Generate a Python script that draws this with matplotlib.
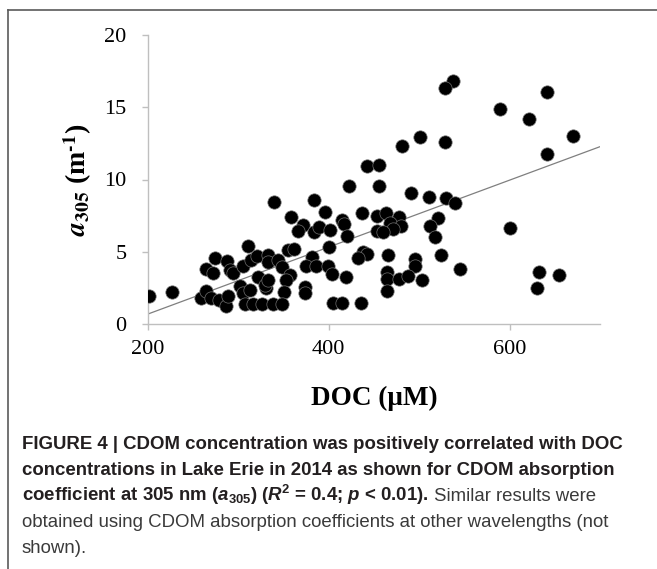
import numpy as np
import matplotlib.pyplot as plt
from matplotlib.lines import Line2D

plt.rcParams['font.family'] = ['Liberation Serif', 'DejaVu Serif']
plt.rcParams['mathtext.fontset'] = 'custom'
plt.rcParams['mathtext.rm'] = 'Liberation Sans'
plt.rcParams['mathtext.bf'] = 'Liberation Sans:bold'
plt.rcParams['mathtext.it'] = 'Liberation Sans:italic'
plt.rcParams['mathtext.bfit'] = 'Liberation Sans:italic:bold'

# DOC (uM) vs a305 (m-1)
doc = [201, 226, 259, 264, 270, 278, 286, 289, 264, 272, 274, 287, 291, 294,
       305, 314, 321, 333, 333, 344, 348, 355, 361, 381, 375, 386, 399, 311,
       339, 384, 396, 358, 371, 366, 384, 389, 357, 353, 322, 331, 329, 333,
       350, 374, 374, 302, 305, 313, 307, 316, 326, 338, 348, 400, 401, 415,
       417, 420, 422, 442, 456, 455, 437, 453, 463, 478, 468, 480, 471, 453,
       460, 438, 442, 432, 466, 495, 495, 524, 545, 464, 464, 464, 478, 488,
       503, 419, 403, 405, 415, 436, 491, 511, 530, 540, 521, 512, 517, 600,
       537, 528, 589, 622, 481, 501, 528, 641, 670, 641, 632, 655, 630]
a305 = [1.96, 2.24, 1.78, 2.30, 1.78, 1.66, 1.27, 1.96, 3.78, 3.51, 4.59, 4.36,
        3.74, 3.51, 4.01, 4.43, 4.71, 4.78, 4.31, 4.43, 3.92, 5.12, 5.16, 4.66,
        4.01, 4.01, 4.01, 5.40, 8.47, 8.58, 7.77, 7.40, 6.85, 6.44, 6.39, 6.73,
        3.39, 3.04, 3.23, 2.47, 2.70, 3.04, 2.24, 2.58, 2.17, 2.63, 2.12, 2.35,
        1.38, 1.38, 1.38, 1.38, 1.38, 5.35, 6.50, 7.20, 6.92, 6.09, 9.55, 10.96,
        11.00, 9.55, 7.71, 7.50, 7.71, 7.43, 6.97, 6.80, 6.57, 6.46, 6.35, 5.00,
        4.85, 4.54, 4.78, 4.50, 4.01, 4.78, 3.81, 3.62, 3.09, 2.28, 3.09, 3.32,
        3.04, 3.27, 3.43, 1.47, 1.43, 1.47, 9.09, 8.76, 8.70, 8.35, 7.31, 6.80,
        6.05, 6.62, 16.84, 16.30, 14.86, 14.22, 12.34, 12.92, 12.60, 16.03, 13.00,
        11.76, 3.62, 3.39, 2.47]

# trend line as drawn in the figure (value at 200 and slope)
trend_x = [200, 700]
trend_slope = 0.02316
trend_intercept = -3.94

x_ticks = [200, 400, 600]
y_ticks = [0, 5, 10, 15, 20]

caption_bold = [
    'FIGURE 4 | CDOM concentration was positively correlated with DOC',
    'concentrations in Lake Erie in 2014 as shown for CDOM absorption',
    r'coefficient at 305 nm ($\mathbfit{a}_{\mathbf{305}}$) '
    r'($\mathbfit{R}^{\mathbf{2}}$ = 0.4; $\mathbfit{p}$ < 0.01).',
]
caption_regular = [
    'Similar results were',
    'obtained using CDOM absorption coefficients at other wavelengths (not',
    'shown).',
]

W, H = 657, 569
fig = plt.figure(figsize=(W / 100, H / 100), dpi=100)
ax = fig.add_axes([148 / W, 1 - 324 / H, 452 / W, 289 / H])

xs = np.array(trend_x)
ax.plot(xs, trend_slope * xs + trend_intercept, color='#7f7f7f', lw=0.9, zorder=2)
ax.scatter(doc, a305, s=92, c='black', edgecolors='#707070',
           linewidths=0.5, zorder=3)

ax.set_xlim(200, 700)
ax.set_ylim(0, 20)
ax.set_xticks(x_ticks)
ax.set_yticks(y_ticks)
for s in ['top', 'right']:
    ax.spines[s].set_visible(False)
for s in ['left', 'bottom']:
    ax.spines[s].set_color('#bfbfbf')
    ax.spines[s].set_linewidth(1.0)
ax.tick_params(length=4.5, width=1.0, color='#bfbfbf', labelsize=16)
ax.tick_params(axis='x', pad=7)
ax.tick_params(axis='y', pad=11)

ax.set_xlabel('DOC (μM)', fontsize=19.5, fontweight='bold', va='top')
ax.xaxis.set_label_coords(0.5, -0.215)
ax.set_ylabel('$\\mathbfit{a}_{\\mathbf{305}}$ (m$^{\\mathbf{\u20101}}$)',
              fontsize=20, fontweight='bold', math_fontfamily='stix')
ax.yaxis.set_label_coords(-0.12, 0.5)

# outer frame (left and top edges)
fig.add_artist(Line2D([8 / W, 8 / W], [0, 1 - 10 / H], transform=fig.transFigure,
                      color='#5a5a5a', lw=1.2))
fig.add_artist(Line2D([8 / W, 1], [1 - 10 / H, 1 - 10 / H], transform=fig.transFigure,
                      color='#5a5a5a', lw=1.2))

# caption
cap_font = ['Liberation Sans', 'DejaVu Sans']
cap_size = 13.4
baselines = [449, 475, 501, 527, 553]
x0 = 22 / W
texts = []
for i, line in enumerate(caption_bold):
    t = fig.text(x0, 1 - baselines[i] / H, line, family=cap_font, fontsize=cap_size,
                 fontweight='bold', color='#231f20', va='baseline')
    texts.append(t)

renderer = fig.canvas.get_renderer()
bb = texts[2].get_window_extent(renderer)
fig.text(bb.x1 / fig.bbox.width + 5 / W, 1 - baselines[2] / H, caption_regular[0],
         family=cap_font, fontsize=cap_size, color='#3a3a3a', va='baseline')
for i, line in enumerate(caption_regular[1:]):
    fig.text(x0, 1 - baselines[3 + i] / H, line, family=cap_font, fontsize=cap_size,
             color='#3a3a3a', va='baseline')

fig.savefig('out.png', dpi=100)
